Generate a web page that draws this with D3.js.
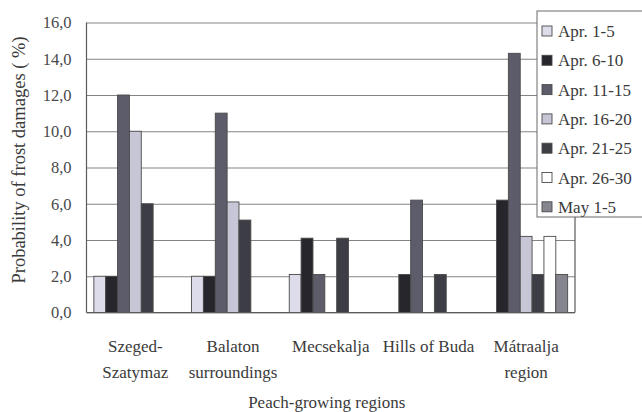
<!DOCTYPE html>
<html>
<head>
<meta charset="utf-8">
<script src="https://cdn.jsdelivr.net/npm/d3@7"></script>
<style>
  html, body { margin: 0; padding: 0; background: #ffffff; }
  svg { display: block; }
  svg text { font-family: "Liberation Serif", "Times New Roman", Tinos, "Noto Serif", "DejaVu Serif", Times, serif; }
</style>
</head>
<body>
<svg id="chart" width="642" height="412"></svg>
<script>
// Peach-growing regions (each label split into its printed lines)
const regions = ["Szeged-Szatymaz", "Balaton surroundings", "Mecsekalja", "Hills of Buda", "Mátraalja region"];
const regionLines = [["Szeged-", "Szatymaz"], ["Balaton", "surroundings"], ["Mecsekalja"], ["Hills of Buda"], ["Mátraalja", "region"]];

// Five-day periods of the spring
const periods = ["Apr. 1-5", "Apr. 6-10", "Apr. 11-15", "Apr. 16-20", "Apr. 21-25", "Apr. 26-30", "May 1-5"];
const periodColors = ["#dcdcea", "#26262c", "#5c5c6b", "#c6c6d6", "#3d3d45", "#ffffff", "#85858f"];

// Probability of frost damage (%) per period, one value per region
const apr1to5   = [2.0, 2.0, 2.1, 0.0, 0.0];
const apr6to10  = [2.0, 2.0, 4.1, 2.1, 6.2];
const apr11to15 = [12.0, 11.0, 2.1, 6.2, 14.3];
const apr16to20 = [10.0, 6.1, 0.0, 0.0, 4.2];
const apr21to25 = [6.0, 5.1, 4.1, 2.1, 2.1];
const apr26to30 = [0.0, 0.0, 0.0, 0.0, 4.2];
const may1to5   = [0.0, 0.0, 0.0, 0.0, 2.1];
const seriesValues = [apr1to5, apr6to10, apr11to15, apr16to20, apr21to25, apr26to30, may1to5];

const yTicks = [0, 2, 4, 6, 8, 10, 12, 14, 16];

const svg = d3.select("#chart");
const plot = { left: 86.5, right: 575, top: 22.5, bottom: 312.5 };

const x0 = d3.scaleBand().domain(regions).range([plot.left, plot.right]);
const x1 = d3.scaleBand().domain(periods).range([0, x0.bandwidth()]).paddingOuter(0.62);
const y = d3.scaleLinear().domain([0, 16]).range([plot.bottom, plot.top]);
const color = d3.scaleOrdinal().domain(periods).range(periodColors);

// horizontal gridlines with tick labels
const yAxis = d3.axisLeft(y).tickValues(yTicks)
  .tickSize(-(plot.right - plot.left)).tickPadding(15)
  .tickFormat(d => d3.format(".1f")(d).replace(".", ","));
const gy = svg.append("g").attr("transform", `translate(${plot.left},0)`).call(yAxis);
gy.attr("font-family", null);
gy.select(".domain").remove();
gy.selectAll(".tick line").attr("stroke", "#848484").attr("stroke-width", 1.1);
gy.selectAll(".tick text").attr("font-size", 16.5).attr("fill", "#4a4a4a");

// bars
const rows = regions.map((r, i) => ({ region: r, values: periods.map((p, k) => ({ period: p, value: seriesValues[k][i] })) }));
const groups = svg.append("g").selectAll("g").data(rows).join("g")
  .attr("transform", d => `translate(${x0(d.region)},0)`);
groups.selectAll("rect").data(d => d.values.filter(v => v.value > 0)).join("rect")
  .attr("x", d => x1(d.period))
  .attr("y", d => y(d.value))
  .attr("width", x1.bandwidth())
  .attr("height", d => y(0) - y(d.value))
  .attr("fill", d => color(d.period))
  .attr("stroke", "#4a4a4a")
  .attr("stroke-width", 0.9);

// plot frame: left axis, baseline, right border
svg.append("line").attr("x1", plot.left).attr("x2", plot.left).attr("y1", plot.top).attr("y2", plot.bottom)
  .attr("stroke", "#5a5a5a").attr("stroke-width", 1.2);
svg.append("line").attr("x1", plot.left).attr("x2", plot.right).attr("y1", plot.bottom).attr("y2", plot.bottom)
  .attr("stroke", "#5a5a5a").attr("stroke-width", 1.2);
svg.append("line").attr("x1", plot.right).attr("x2", plot.right).attr("y1", plot.top).attr("y2", plot.bottom)
  .attr("stroke", "#5a5a5a").attr("stroke-width", 1.2);

// category labels
const xl = svg.append("g").selectAll("text").data(regions).join("text")
  .attr("x", d => x0(d) + x0.bandwidth() / 2)
  .attr("y", 352)
  .attr("text-anchor", "middle")
  .attr("font-size", 17)
  .attr("fill", "#3a3a3a");
xl.selectAll("tspan").data((d, i) => regionLines[i]).join("tspan")
  .attr("x", function () { return d3.select(this.parentNode).attr("x"); })
  .attr("dy", (d, j) => j === 0 ? 0 : 26)
  .text(d => d);

// axis titles
svg.append("text").attr("x", (plot.left + plot.right) / 2 - 4).attr("y", 408)
  .attr("text-anchor", "middle").attr("font-size", 17).attr("fill", "#3a3a3a")
  .text("Peach-growing regions");
svg.append("text").attr("transform", "translate(25,160) rotate(-90)")
  .attr("text-anchor", "middle").attr("font-size", 18.5).attr("fill", "#3a3a3a")
  .text("Probability of frost damages ( %)");

// legend
const lg = svg.append("g").attr("transform", "translate(537,11)");
lg.append("rect").attr("x", 0).attr("y", 0).attr("width", 110).attr("height", 206)
  .attr("fill", "#ffffff").attr("stroke", "#6a6a6a").attr("stroke-width", 1);
const items = lg.selectAll("g.item").data(periods).join("g").attr("class", "item")
  .attr("transform", (d, i) => `translate(5,${20 + i * 29.3})`);
items.append("rect").attr("x", 0).attr("y", -5).attr("width", 10).attr("height", 10)
  .attr("fill", d => color(d)).attr("stroke", "#4a4a4a").attr("stroke-width", 0.9);
items.append("text").attr("x", 16).attr("y", 6).attr("font-size", 17).attr("fill", "#3a3a3a")
  .text(d => d);
</script>
</body>
</html>
